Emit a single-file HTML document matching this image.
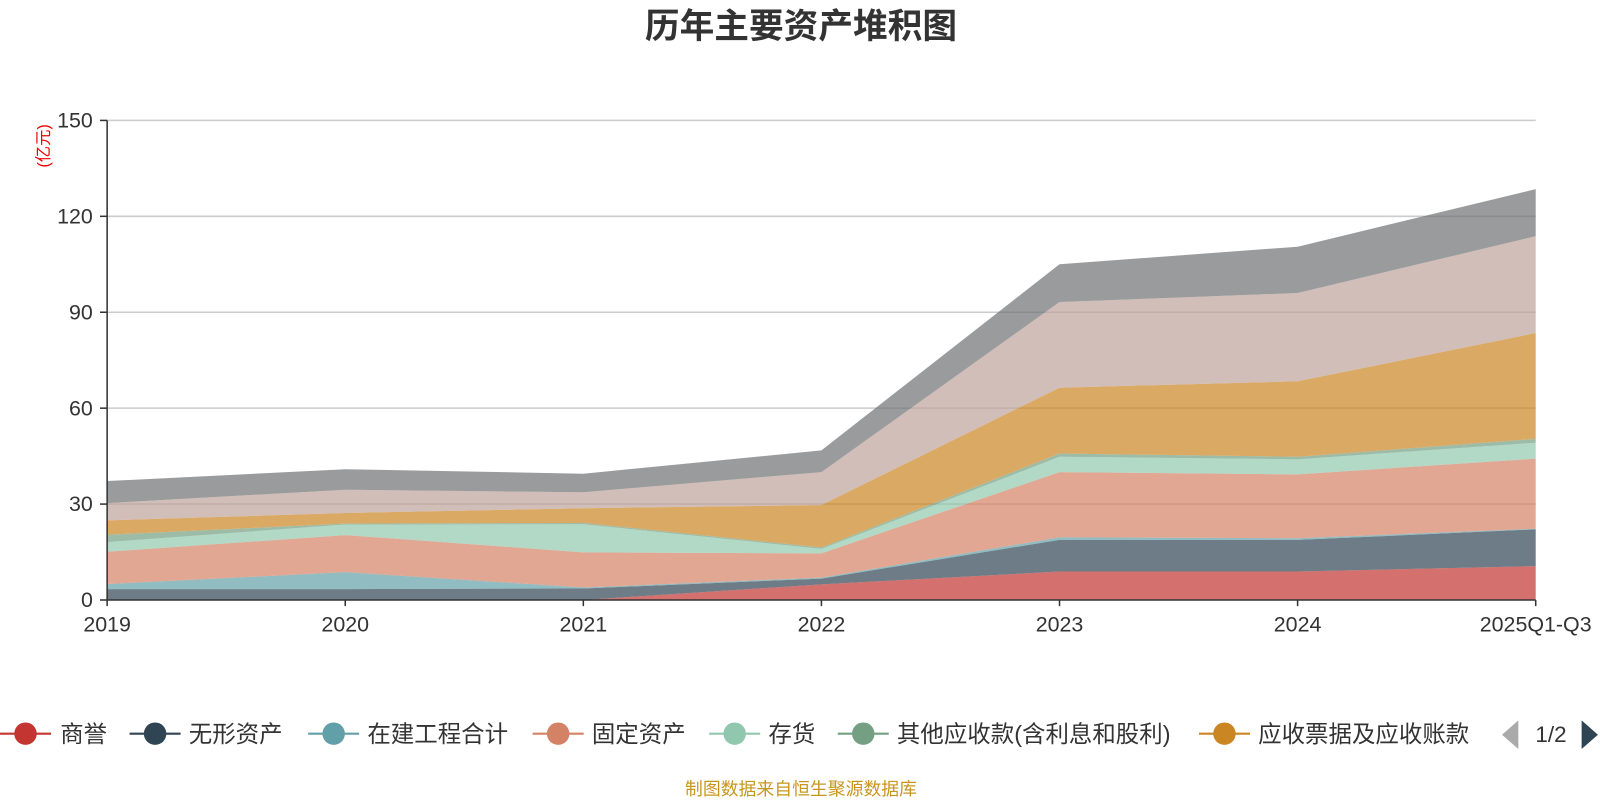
<!DOCTYPE html>
<html><head><meta charset="utf-8">
<style>
body{margin:0;background:#fff;width:1600px;height:800px;overflow:hidden;font-family:"Liberation Sans","Noto Sans CJK SC",sans-serif;}
svg text{font-family:"Liberation Sans","Noto Sans CJK SC",sans-serif;}
</style></head>
<body>
<svg id="chart" width="1600" height="800">
<g transform="scale(1.0204)">
<text x="785" y="37" text-anchor="middle" font-size="34" font-weight="bold" fill="#333">历年主要资产堆积图</text>
<text transform="translate(48,143) rotate(-90)" text-anchor="middle" font-size="16" fill="#e00">(亿元)</text>
<g id="grid"></g>
<g id="areas"></g>
<g id="axes"></g>
<g id="legend"></g>
<text x="785" y="779" text-anchor="middle" font-size="17.5" fill="#c8961e">制图数据来自恒生聚源数据库</text>
</g>
</svg>
<script>
const categories=["2019","2020","2021","2022","2023","2024","2025Q1-Q3"];
const seriesNames=["商誉","无形资产","在建工程合计","固定资产","存货","其他应收款(含利息和股利)","应收票据及应收账款","货币资金","其他"];
const goodwill=[0,0,0,4.9,8.9,8.9,10.6];
const intangible=[3.4,3.4,3.6,1.8,9.9,9.9,11.5];
const construction=[1.6,5.3,0.3,0.3,0.8,0.5,0.2];
const fixedAssets=[10.1,11.6,11.0,7.6,20.4,20.0,21.9];
const inventory=[3.0,3.3,8.8,1.4,4.8,4.7,5.0];
const otherRecv=[2.3,0.3,0.4,0.4,1.0,0.8,1.2];
const receivables=[4.5,3.3,4.6,13.3,20.6,23.6,33.1];
const cash=[5.4,7.3,5.0,10.3,26.8,27.6,30.3];
const others=[6.9,6.4,5.8,6.8,11.8,14.5,14.7];
const yTicks=[0,30,60,90,120,150];
const seriesData=[goodwill,intangible,construction,fixedAssets,inventory,otherRecv,receivables,cash,others];
const colors=["#c23531","#2f4554","#61a0a8","#d48265","#91c7ae","#749f83","#ca8622","#bda29a","#6e7074"];
const NS="http://www.w3.org/2000/svg";
const x0=105,x1=1505,y0=588,yTop=118,yMax=150;
const xs=i=>x0+i*(x1-x0)/(categories.length-1);
const ys=v=>y0-v*(y0-yTop)/yMax;
function mk(tag,attrs,parent){const e=document.createElementNS(NS,tag);for(const k in attrs)e.setAttribute(k,attrs[k]);parent.appendChild(e);return e;}
const grid=document.getElementById('grid'),areas=document.getElementById('areas'),axes=document.getElementById('axes'),legend=document.getElementById('legend');
yTicks.forEach(t=>{
  if(t>0){const l=mk('line',{x1:x0,x2:x1,y1:ys(t),y2:ys(t),stroke:'#ccc','stroke-width':1.5},grid);
  
  }
  const tk=mk('line',{x1:x0-7,x2:x0,y1:ys(t),y2:ys(t),stroke:'#333','stroke-width':1.5},axes);
  
  
  const tx=mk('text',{x:x0-14,y:ys(t)+7,'text-anchor':'end','font-size':21,fill:'#333'},axes);tx.textContent=t;
  
  
});
let base=categories.map(()=>0);
seriesData.forEach((arr,si)=>{
  const top=arr.map((v,i)=>base[i]+v);
  let pts=top.map((v,i)=>xs(i)+','+ys(v));
  let bpts=base.map((v,i)=>xs(i)+','+ys(v)).reverse();
  const p=mk('polygon',{points:pts.concat(bpts).join(' '),fill:colors[si],'fill-opacity':0.7},areas);
  
  
  base=top;
});
mk('line',{x1:x0,x2:x0,y1:yTop,y2:y0,stroke:'#333','stroke-width':1.5},axes);
const ax=mk('line',{x1:x0,x2:x1,y1:y0,y2:y0,stroke:'#333','stroke-width':1.5},axes);


categories.forEach((c,i)=>{
  const tk=mk('line',{x1:xs(i),x2:xs(i),y1:y0,y2:y0+6,stroke:'#333','stroke-width':1.5},axes);
  
  
  const t=mk('text',{x:xs(i),y:619,'text-anchor':'middle','font-size':21,fill:'#333'},axes);t.textContent=c;
  
  
});
const legPos=[[25,59],[152,185],[327,360],[547,580],[720,753],[846,879],[1200,1233]];
legPos.forEach((p,i)=>{
  const g=mk('g',{},legend);
  
  
  mk('line',{x1:p[0]-25,x2:p[0]+25,y1:719,y2:719,stroke:colors[i],'stroke-width':2},g);
  mk('circle',{cx:p[0],cy:719,r:11,fill:colors[i]},g);
  const t=mk('text',{x:p[1],y:727,'font-size':23,fill:'#333'},g);t.textContent=seriesNames[i];
});
const pl=mk('polygon',{points:'1472,720 1488,706 1488,734',fill:'#aaa'},legend);


const pt=mk('text',{x:1520,y:727,'text-anchor':'middle','font-size':22,fill:'#333'},legend);pt.textContent='1/2';


const pr=mk('polygon',{points:'1566,720 1550,706 1550,734',fill:'#2f4554'},legend);


</script>
</body></html>
